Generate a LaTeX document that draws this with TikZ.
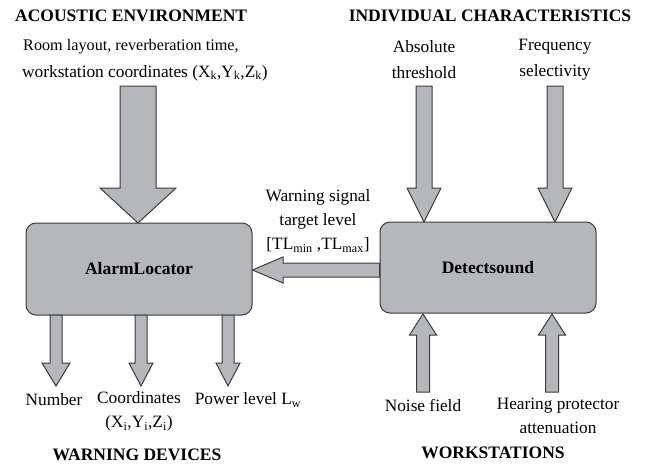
\documentclass[tikz,border=0pt]{standalone}
\usepackage{fontspec}
\setmainfont{Liberation Serif}
\definecolor{boxfill}{RGB}{182,183,187}
\definecolor{boxline}{RGB}{60,60,60}
\tikzset{
  blk/.style={fill=boxfill,draw=boxline,line width=1pt,line join=miter},
  module/.style={fill=boxfill,draw=boxline,line width=1pt,rounded corners=10pt,inner sep=0pt,font=\fontsize{17.5}{20}\selectfont\bfseries},
  lbl/.style={font=\fontsize{17.3}{24}\selectfont,align=center,inner sep=0pt},
  head/.style={font=\fontsize{17.5}{20}\selectfont\bfseries,inner sep=0pt},
}
% down arrow: cx, ytop, ytip, shaft half, head half, head length
\newcommand\darr[6]{\draw[blk] ({#1-#4},#2) -- ({#1+#4},#2) -- ({#1+#4},{#3-#6}) -- ({#1+#5},{#3-#6}) -- (#1,#3) -- ({#1-#5},{#3-#6}) -- ({#1-#4},{#3-#6}) -- cycle;}
% up arrow: cx, ybottom, ytip, shaft half, head half, head length
\newcommand\uarr[6]{\draw[blk] ({#1-#4},#2) -- ({#1+#4},#2) -- ({#1+#4},{#3+#6}) -- ({#1+#5},{#3+#6}) -- (#1,#3) -- ({#1-#5},{#3+#6}) -- ({#1-#4},{#3+#6}) -- cycle;}
\begin{document}
\begin{tikzpicture}[x=1pt,y=-1pt]
\useasboundingbox[fill=white] (0,0) rectangle (645,474);
% modules
\node[module,minimum width=226pt,minimum height=92pt] (al) at (139,269) {AlarmLocator};
\node[module,minimum width=216pt,minimum height=91pt] (ds) at (488,267.5) {Detectsound};
% headings
\node[head,anchor=west] (h1) at (15,16) {ACOUSTIC ENVIRONMENT};
\node[head] (h2) at (490,16) {INDIVIDUAL CHARACTERISTICS};
\node[head] (h3) at (137,455) {WARNING DEVICES};
\node[head] (h4) at (493,453) {WORKSTATIONS};
% input labels
\node[lbl,anchor=west,font=\fontsize{16.2}{24}\selectfont] (room) at (23,47) {Room layout, reverberation time,};
\node[lbl,anchor=west] (work) at (22,73) {workstation coordinates (X\textsubscript{k},Y\textsubscript{k},Z\textsubscript{k})};
\node[lbl,font=\fontsize{17.3}{26}\selectfont] (abs) at (424,60) {Absolute\\threshold};
\node[lbl,font=\fontsize{17.3}{26}\selectfont] (freq) at (555,60) {Frequency\\selectivity};
\node[lbl] (warn) at (318,221) {Warning signal\\target level\\{[}TL\textsubscript{min} ,TL\textsubscript{max}{]}};
% output labels
\node[lbl] (num) at (54,400) {Number};
\node[lbl] (coord) at (139,411.5) {Coordinates\\(X\textsubscript{i},Y\textsubscript{i},Z\textsubscript{i})};
\node[lbl] (pow) at (248,400) {Power level L\textsubscript{w}};
\node[lbl] (noise) at (423,405) {Noise field};
\node[lbl] (hear) at (558,416) {Hearing protector\\attenuation};
% block arrows
\darr{138}{86}{223}{18}{38}{35}
\darr{424}{86}{222}{8}{17}{34}
\darr{555}{86}{222}{8}{17}{34}
\darr{56}{315}{386}{6}{14}{23}
\darr{141}{315}{386}{6}{12}{23}
\darr{228}{315}{386}{6}{12}{23}
\uarr{423}{392}{314}{6.5}{13.5}{21}
\uarr{552}{392}{314}{6.5}{13.5}{21}
\draw[blk] (ds.west |- 0,263) -- (283,263) -- (283,257) -- (al.east |- 0,270) -- (283,283) -- (283,277) -- (ds.west |- 0,277) -- cycle;
\end{tikzpicture}
\end{document}
